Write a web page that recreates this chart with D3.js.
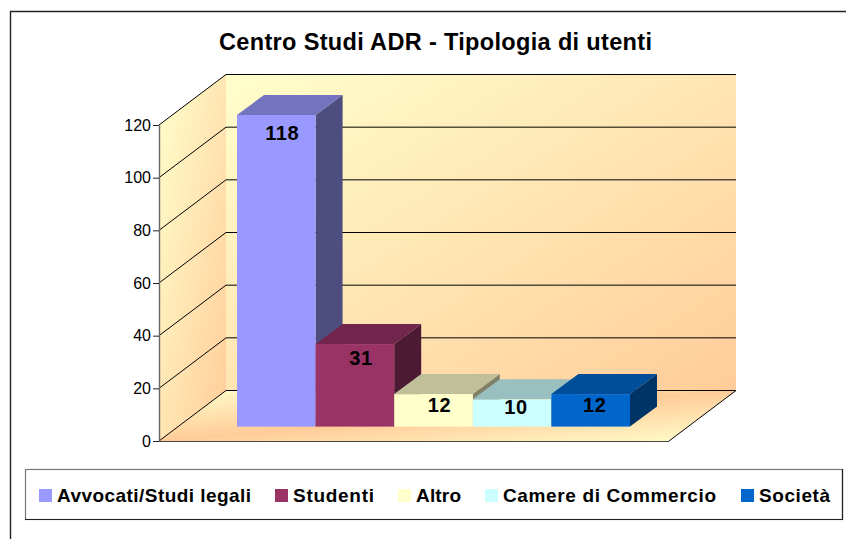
<!DOCTYPE html>
<html><head><meta charset="utf-8">
<script src="https://cdn.jsdelivr.net/npm/d3@7/dist/d3.min.js"></script>
<style>html,body{margin:0;padding:0;background:#fff}svg{display:block}text{font-family:"Liberation Sans",Arial,sans-serif;fill:#000}</style>
</head><body><svg id="c" width="846" height="539"></svg>
<script>
const categories=["Avvocati/Studi legali","Studenti","Altro","Camere di Commercio","Società"];
const values=[118,31,12,10,12];
const colors=["#9999FF","#993366","#FFFFCC","#CCFFFF","#0066CC"];
const yTicks=[0,20,40,60,80,100,120];
const titleText="Centro Studi ADR - Tipologia di utenti";
const legendLeft=[39,275,398,485,741];
const legendWidth=[194,81,45,213,71];
const labelOffset=[[0,0],[0,-4],[0,-7],[-2,-10],[-2,-7]];

const svg=d3.select("#c");
const defs=svg.append("defs");
const grad=(id,stops)=>{const g=defs.append("linearGradient").attr("id",id)
  .attr("x1",0).attr("y1",0).attr("x2",1).attr("y2",1);
  stops.forEach(s=>g.append("stop").attr("offset",s[0]).attr("stop-color",s[1]));};
grad("gBack",[[0,"#FFFFCC"],[1,"#FFCC99"]]);
grad("gLeft",[[0,"#FFFFCC"],[1,"#FFCC99"]]);
grad("gFloor",[[0,"#FFFFCC"],[.5,"#FFCC99"],[1,"#FFFFCC"]]);

const x0=159,xEnd=669,dxW=67,dyW=50.5;
const y=d3.scaleLinear().domain([0,120]).range([441,125]);
const x=d3.scaleBand().domain(categories).range([237,630]).padding(0);
const dx=27,dy=20,lift=15.3,barBase=426.6;
const poly=p=>p.map(q=>q.join(",")).join(" ");

// frame
svg.append("path").attr("d","M10.5,539V11.5H846").attr("fill","none").attr("stroke","#222").attr("stroke-width",1.4);

// title
svg.append("text").attr("x",219).attr("y",50).attr("font-size",23.5).attr("font-weight","bold")
  .attr("textLength",433).attr("lengthAdjust","spacing").text(titleText);

// walls
svg.append("polygon").attr("points",poly([[x0+dxW,y(120)-dyW],[xEnd+dxW,y(120)-dyW],[xEnd+dxW,y(0)-dyW],[x0+dxW,y(0)-dyW]])).attr("fill","url(#gBack)");
svg.append("polygon").attr("points",poly([[x0,y(120)],[x0+dxW,y(120)-dyW],[x0+dxW,y(0)-dyW],[x0,y(0)]])).attr("fill","url(#gLeft)");
svg.append("polygon").attr("points",poly([[x0,y(0)],[x0+dxW,y(0)-dyW],[xEnd+dxW,y(0)-dyW],[xEnd,y(0)]])).attr("fill","url(#gFloor)");

// gridlines
const grid=svg.append("g").attr("fill","none").attr("stroke","#000").attr("stroke-width",1);
yTicks.forEach(t=>{
  grid.append("polyline").attr("points",poly([[x0,y(t)],[x0+dxW,y(t)-dyW],[xEnd+dxW,y(t)-dyW]]));
});
grid.append("line").attr("x1",xEnd).attr("y1",y(0)).attr("x2",xEnd+dxW).attr("y2",y(0)-dyW);

// axis
const axis=d3.axisLeft(y).tickValues(yTicks).tickSize(6).tickPadding(2).tickSizeOuter(0);
const ax=svg.append("g").attr("transform",`translate(${x0},0)`).call(axis);
ax.select(".domain").attr("stroke","#666").attr("stroke-width",1.4);
ax.selectAll(".tick line").attr("stroke","#222");
ax.selectAll("text").attr("font-size",16).attr("font-family","Liberation Sans").attr("fill","#111");
svg.append("line").attr("x1",x0).attr("x2",xEnd).attr("y1",y(0)+.5).attr("y2",y(0)+.5).attr("stroke","#444").attr("stroke-width",1.2);

// bars
const shade=(c,f)=>{const r=d3.rgb(c);return d3.rgb(r.r*f,r.g*f,r.b*f).formatHex();};
const bars=svg.selectAll("g.bar").data(categories.map((c,i)=>({c,i,v:values[i]}))).join("g").attr("class","bar");
bars.each(function(d){
  const g=d3.select(this),l=x(d.c),r=l+x.bandwidth(),t=y(d.v)-lift,b=barBase,col=colors[d.i];
  g.append("polygon").attr("points",poly([[r,t],[r+dx,t-dy],[r+dx,b-dy],[r,b]])).attr("fill",shade(col,.5));
  g.append("polygon").attr("points",poly([[l,t],[r,t],[r+dx,t-dy],[l+dx,t-dy]])).attr("fill",shade(col,.75));
  g.append("rect").attr("x",l).attr("y",t).attr("width",x.bandwidth()).attr("height",b-t).attr("fill",col);
});
// value labels
bars.append("text").attr("text-anchor","middle").attr("font-size",20).attr("font-weight","bold").attr("letter-spacing",.6)
  .attr("x",d=>x(d.c)+x.bandwidth()/2+6+labelOffset[d.i][0])
  .attr("y",d=>y(d.v)-lift+25+labelOffset[d.i][1]).text(d=>d.v);

// legend
svg.append("rect").attr("x",25.5).attr("y",469.5).attr("width",817).attr("height",50).attr("fill","#fff").attr("stroke","#777").attr("stroke-width",1.2);
svg.append("path").attr("d","M25,519.5H842.5V469").attr("fill","none").attr("stroke","#222").attr("stroke-width",1.2);
const lg=svg.selectAll("g.lg").data(categories).join("g").attr("class","lg");
lg.append("rect").attr("x",(d,i)=>legendLeft[i]).attr("y",489).attr("width",13).attr("height",13).attr("fill",(d,i)=>colors[i]);
lg.append("text").attr("x",(d,i)=>legendLeft[i]+18).attr("y",502).attr("font-size",19).attr("font-weight","bold")
  .attr("textLength",(d,i)=>legendWidth[i]).attr("lengthAdjust","spacing").text(d=>d);
</script></body></html>
